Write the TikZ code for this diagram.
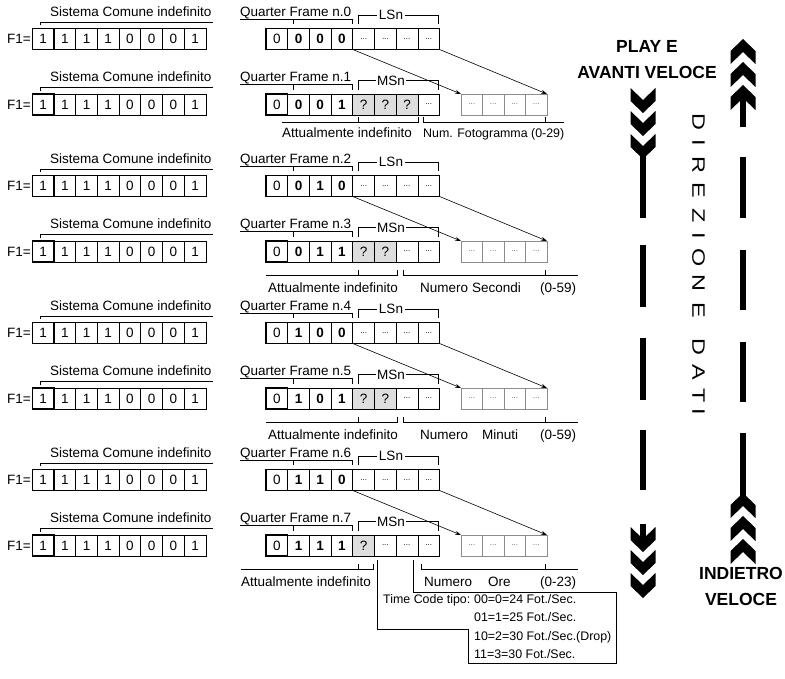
\documentclass[tikz,border=0pt]{standalone}
\usepackage{fontspec}
\setmainfont{Liberation Sans}
\usepackage{graphicx}
\usetikzlibrary{arrows.meta}

\newcommand{\sz}{\fontsize{13.5}{15}\selectfont}
\newcommand{\tcsz}{\fontsize{12.4}{14}\selectfont}
\newcommand{\dd}{{\fontsize{8}{9}\selectfont ...}}

\tikzstyle{bit} = [rectangle, draw=black, line width=0.7pt, minimum width=21.7pt, minimum height=21pt, inner sep=0pt, outer sep=0pt, font=\sz]
\tikzstyle{firstbit} = [bit, line width=1.1pt]
\tikzstyle{boldbit} = [bit, font=\sz\bfseries]
\tikzstyle{unknown} = [bit, fill=black!13]
\tikzstyle{outbit} = [bit, minimum width=21.5pt, draw=black!45, text=black!60]
\tikzstyle{txt} = [font=\sz, inner sep=0pt, anchor=base west]
\tikzstyle{tctxt} = [font=\tcsz, inner sep=0pt, anchor=base west]
\tikzstyle{bkt} = [line width=0.7pt]
\tikzstyle{arrow} = [line width=0.6pt, -{Stealth[length=6pt, width=4pt]}]
\tikzstyle{bigtxt} = [font=\bfseries\fontsize{17.5}{26}\selectfont, align=center, inner sep=0pt]

\newcommand{\chevdn}[2]{\fill (#1-12.5,#2) -- (#1,#2+12) -- (#1+12.5,#2) -- (#1+12.5,#2+13) -- (#1,#2+25) -- (#1-12.5,#2+13) -- cycle;}
\newcommand{\chevup}[2]{\fill (#1-12.5,#2) -- (#1,#2-12) -- (#1+12.5,#2) -- (#1+12.5,#2-13) -- (#1,#2-25) -- (#1-12.5,#2-13) -- cycle;}

\begin{document}
\begin{tikzpicture}[x=1pt, y=-1pt]
\useasboundingbox (0,0) rectangle (785,678);

% F1 rows
\foreach \y [count=\r from 0] in {39,104.5,186,251.5,333,398.5,480,545.5} {
  \node (sys\r) [txt] at (50,\y-23) {Sistema Comune indefinito};
  \draw [bkt] (40.7,\y-14) -- (40.7,\y-17) -- (213,\y-17);
  \node (fa\r) [font=\sz, inner sep=0pt, anchor=east] at (31,\y) {F1=};
  \foreach \b [count=\i] in {1,1,1,0,0,0,1}
    \node (f\r-\i) [bit] at (43.15+21.7*\i,\y) {\b};
  \node (f\r-0) [firstbit] at (43.15,\y) {1};
}

% quarter frames
\foreach \k/\y/\ba/\bb/\bc/\nq/\nib in {0/39/0/0/0/0/LSn, 1/104.5/0/0/1/3/MSn, 2/186/0/1/0/0/LSn, 3/251.5/0/1/1/2/MSn, 4/333/1/0/0/0/LSn, 5/398.5/1/0/1/2/MSn, 6/480/1/1/0/0/LSn, 7/545.5/1/1/1/1/MSn} {
  \node (qf\k) [txt] at (240,\y-23) {Quarter Frame n.\k};
  \draw [bkt] (293,\y-15) -- (293,\y-20);
  \draw [bkt] (240,\y-20) -- (352,\y-20) -- (352,\y-15);
  \foreach \b [count=\i] in {\ba,\bb,\bc}
    \node (q\k-\i) [boldbit] at (276.85+21.7*\i,\y) {\b};
  \foreach \i in {4,...,7} {
    \pgfmathtruncatemacro{\isq}{(\i-4)<\nq}
    \ifnum\isq=1
      \node (q\k-\i) [unknown] at (276.85+21.7*\i,\y) {?};
    \else
      \node (q\k-\i) [bit] at (276.85+21.7*\i,\y) {\dd};
    \fi
  }
  \node (q\k-0) [firstbit] at (276.85,\y) {0};
  \draw [bkt] (358,\y-15) -- (358,\y-24) -- (438,\y-24) -- (438,\y-15);
  \node (nib\k) [font=\sz, fill=white, inner sep=1.5pt] at (391,\y-24) {\nib};
}

% nibble out
\foreach \k/\y in {1/104.5, 3/251.5, 5/398.5, 7/545.5} {
  \foreach \i in {0,...,3}
    \node (o\k-\i) [outbit] at (471.75+21.5*\i,\y) {\dd};
  \pgfmathtruncatemacro{\p}{\k-1}
  \draw [arrow] (q\p-4.south west) -- (o\k-0.north west);
  \draw [arrow] (q\p-7.south east) -- (o\k-3.north east);
}

% frame
\draw [bkt] (282,122) -- (418,122) -- (418,117);
\draw [bkt] (358,117) -- (358,122);
\draw [bkt] (423,117) -- (423,122) -- (564,122);
\draw [bkt] (545,117) -- (545,122);
\node (att1) [txt] at (282,137) {Attualmente indefinito};
\node (num1) [tctxt] at (423,137) {Num. Fotogramma (0-29)};

% secondi
\draw [bkt] (266,275) -- (397,275) -- (397,270);
\draw [bkt] (358,270) -- (358,275);
\draw [bkt] (403,270) -- (403,275) -- (578,275);
\draw [bkt] (545,270) -- (545,275);
\node (att3) [txt] at (268,292) {Attualmente indefinito};
\node (num3) [txt] at (420,292) {Numero};
\node (sec3) [txt] at (472,292) {Secondi};
\node (rng3) [txt] at (540,292) {(0-59)};

% minuti
\draw [bkt] (266,422) -- (397,422) -- (397,417);
\draw [bkt] (358,417) -- (358,422);
\draw [bkt] (403,417) -- (403,422) -- (578,422);
\draw [bkt] (545,417) -- (545,422);
\node (att5) [txt] at (268,439) {Attualmente indefinito};
\node (num5) [txt] at (420,439) {Numero};
\node (min5) [txt] at (482,439) {Minuti};
\node (rng5) [txt] at (540,439) {(0-59)};

% ore
\draw [bkt] (241,569) -- (373,569) -- (373,564);
\draw [bkt] (358,564) -- (358,569);
\draw [bkt] (421,564) -- (421,569) -- (578,569);
\draw [bkt] (545,564) -- (545,569);
\node (att7) [txt] at (241,586) {Attualmente indefinito};
\node (num7) [txt] at (424,586) {Numero};
\node (ore7) [txt] at (488,586) {Ore};
\node (rng7) [txt] at (540,586) {(0-23)};

% time code
\draw [bkt] (377,560) -- (377,629) -- (468,629) -- (468,663) -- (616,663) -- (616,592) -- (413,592) -- (413,560);
\node (tct) [tctxt, anchor=base east] at (470.5,603) {Time Code tipo:};
\node (tc0) [tctxt] at (474,603) {00=0=24 Fot./Sec.};
\node (tc1) [tctxt] at (474,621) {01=1=25 Fot./Sec.};
\node (tc2) [tctxt] at (474,640) {10=2=30 Fot./Sec.(Drop)};
\node (tc3) [tctxt] at (474,658) {11=3=30 Fot./Sec.};

% direzione
\node (play) [bigtxt] at (647,60) {PLAY E\\AVANTI VELOCE};
\node (indietro) [bigtxt] at (741,586) {INDIETRO\\VELOCE};
\foreach \lt/\yy in {D/122, I/143, R/165, E/190, Z/216, I/236, O/258, N/283, E/310, D/347, A/372, T/396, I/412}
  \node [rotate=-90, font=\fontsize{18}{18}\selectfont, inner sep=0pt] at (698.5,\yy) {\scalebox{1.3}[1]{\lt}};

% avanti
\chevdn{643}{88} \chevdn{643}{111} \chevdn{643}{134}
\fill (640,146) rectangle (646,218);
\fill (640,245) rectangle (646,307);
\fill (640,338) rectangle (646,400);
\fill (640,430) rectangle (646,490);
\fill (640,524) rectangle (646,540);
\chevdn{643}{527} \chevdn{643}{550} \chevdn{643}{573}

% indietro
\chevup{743}{64} \chevup{743}{87} \chevup{743}{110}
\fill (740,98) rectangle (746,127);
\fill (740,157) rectangle (746,218);
\fill (740,250) rectangle (746,310);
\fill (740,342) rectangle (746,402);
\fill (740,433) rectangle (746,505);
\chevup{743}{518} \chevup{743}{541} \chevup{743}{564}
\end{tikzpicture}
\end{document}
